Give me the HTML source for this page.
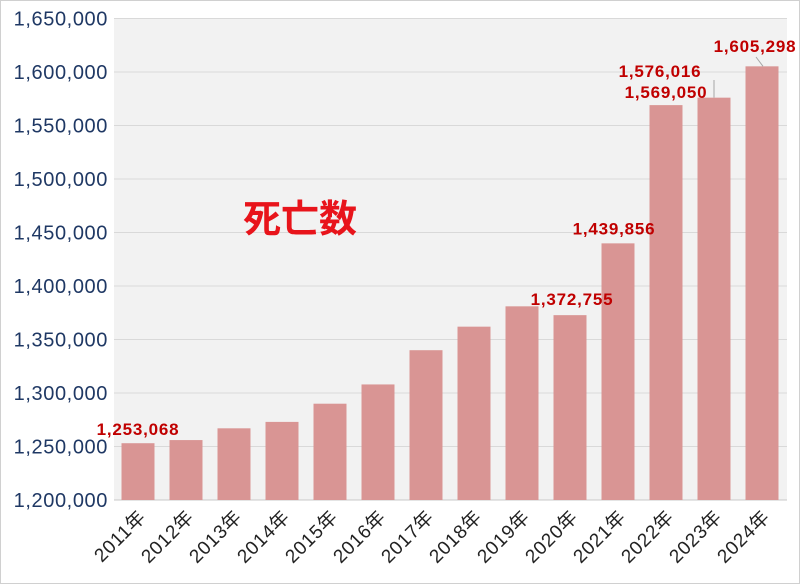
<!DOCTYPE html>
<html><head><meta charset="utf-8"><style>
body{margin:0;background:#fff}
svg{display:block;font-family:"Liberation Sans","Noto Sans CJK JP",sans-serif}
</style></head><body>
<svg id="chart" width="800" height="584" viewBox="0 0 800 584">
<rect x="0.5" y="0.5" width="799" height="583" fill="#fff" stroke="#d0d0d0"/>
<rect x="114" y="18" width="673" height="482" fill="#f2f2f2"/>
<g id="grid"></g><g id="bars"></g><g id="yticks"></g><g id="xticks"></g><g id="labels"></g>
<text x="300" y="232" font-size="38" font-weight="bold" fill="#e8141b" text-anchor="middle">死亡数</text>
</svg>
<script>
const categories=["2011年","2012年","2013年","2014年","2015年","2016年","2017年","2018年","2019年","2020年","2021年","2022年","2023年","2024年"];
const values=[1253068,1256000,1267000,1273000,1290000,1308000,1340000,1362000,1381000,1372755,1439856,1569050,1576016,1605298];
const labelled=[true,false,false,false,false,false,false,false,false,true,true,true,true,true];
const yTicks=[1200000,1250000,1300000,1350000,1400000,1450000,1500000,1550000,1600000,1650000];
const NS="http://www.w3.org/2000/svg";
const x0=114,bw=48,yMin=1200000,yMax=1650000,yTop=18.5,yBot=500;
const y=v=>yBot-(v-yMin)/(yMax-yMin)*(yBot-yTop);
const xc=i=>x0+bw*(i+0.5);
const fmt=v=>v.toLocaleString("en-US");
function mk(tag,attrs,parent){const e=document.createElementNS(NS,tag);for(const k in attrs)e.setAttribute(k,attrs[k]);document.getElementById(parent).appendChild(e);return e;}
yTicks.forEach(t=>{
 const l=mk("line",{x1:x0,x2:787,y1:y(t),y2:y(t),stroke:t===yMin?"#c8c8c8":"#d9d9d9","stroke-width":1},"grid");
 
 
 const tx=mk("text",{x:108,y:y(t)+7,"text-anchor":"end","font-size":20,"letter-spacing":0.6,fill:"#1f3864"},"yticks");
 tx.textContent=fmt(t);
 
 
});
categories.forEach((c,i)=>{
 const v=values[i];
 const r=mk("rect",{x:xc(i)-16.5,y:y(v),width:33,height:yBot-y(v),fill:"#d99594"},"bars");
 
 
 const cx=xc(i)+9,cy=518;
 const t=mk("text",{x:cx,y:cy,"text-anchor":"end","font-size":19,"letter-spacing":0.8,fill:"#222",transform:`rotate(-45 ${cx} ${cy})`},"xticks");
 t.textContent=c;
 
 
 if(labelled[i]){
  let lx=xc(i),ly=y(v)-8;
  if(i===0){ly=y(v)-8;}
  if(i===9){lx=xc(i)+2;ly=y(v)-10;}
  if(i===10){lx=xc(i)-4;ly=y(v)-9;}
  if(i===11){lx=xc(i)+0;ly=y(v)-12;}
  if(i===12){lx=xc(i)-54;ly=y(v)-2-(y(1576016)-y(1569050))-12;ly=100;}
  if(i===13){lx=xc(i)-7;ly=52;const ln=mk("line",{x1:xc(i)-6,x2:xc(i)+1,y1:57,y2:y(v),stroke:"#a6a6a6"},"labels");}
  if(i===12){lx=xc(i)-54;ly=77;const ln=mk("line",{x1:xc(i),x2:xc(i),y1:80,y2:y(v),stroke:"#a6a6a6"},"labels");}
  if(i===11){lx=xc(i)-0;ly=98;}
  const d=mk("text",{x:lx,y:ly,"text-anchor":"middle","font-size":17,"letter-spacing":0.8,"font-weight":"bold",fill:"#c00000"},"labels");
  d.textContent=fmt(v);
  
  
 }
});
</script>
</body></html>
